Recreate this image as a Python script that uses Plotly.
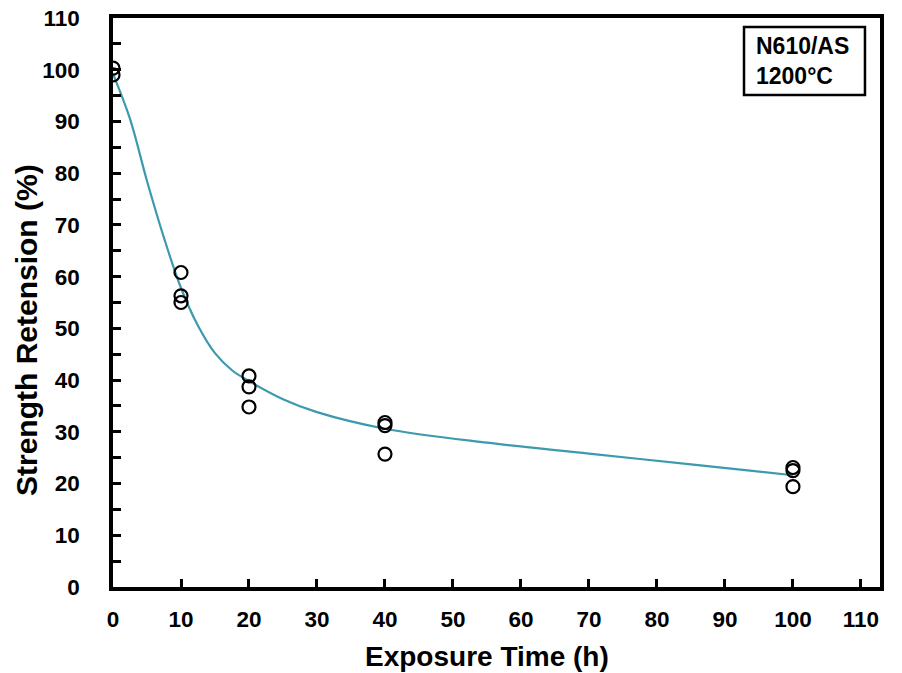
import plotly.graph_objects as go

# Measured data points (exposure time h, strength retention %)
pts_x = [0, 0, 10, 10, 10, 20, 20, 20, 40, 40, 40, 100, 100, 100]
pts_y = [100.3, 99.0, 60.8, 56.3, 55.0, 40.8, 38.7, 34.8, 31.8, 31.2, 25.7, 23.1, 22.5, 19.4]

# Fitted trend curve
fit_x = [0, 2.5, 5, 7.5, 10, 12.5, 15, 17.5, 20, 25, 30, 40, 55, 70, 85, 100]
fit_y = [99.2, 90.5, 78.5, 67.5, 57.8, 50.5, 45.2, 41.9, 39.8, 36.3, 33.8, 30.6, 27.9, 25.8, 23.7, 21.6]

x_ticks = list(range(0, 111, 10))
y_ticks = list(range(0, 111, 10))

x_title = "Exposure Time (h)"
y_title = "Strength Retension (%)"
box_text = "N610/AS<br>1200°C"

FONT = "Liberation Sans, Arial, sans-serif"

fig = go.Figure()
fig.add_trace(go.Scatter(
    x=fit_x, y=fit_y, mode="lines",
    line=dict(color="#3C9AAE", width=2.2, shape="spline", smoothing=1.0),
    showlegend=False, hoverinfo="skip"))
fig.add_trace(go.Scatter(
    x=pts_x, y=pts_y, mode="markers",
    marker=dict(symbol="circle-open", size=13, color="black", line=dict(width=2.2, color="black")),
    showlegend=False))

axis_common = dict(
    showgrid=False, zeroline=False, showline=True, linecolor="black", linewidth=3.5,
    mirror=True, ticks="inside", tickcolor="black", tickwidth=3, ticklen=8,
    tickfont=dict(family=FONT, size=22.5, color="black", weight="bold"),
    automargin=False, ticklabeloverflow="allow",
)

fig.update_xaxes(
    range=[0, 112.8], tickvals=x_ticks, ticktext=[str(v) for v in x_ticks],
    ticklabelstandoff=9,
    **axis_common)
fig.update_yaxes(
    range=[0, 110], tickvals=y_ticks, ticktext=[str(v) for v in y_ticks],
    minor=dict(dtick=5, tick0=0, ticks="inside", ticklen=8, tickwidth=3, tickcolor="black", showgrid=False),
    ticklabelstandoff=25,
    **axis_common)

# Axis titles
fig.add_annotation(
    xref="paper", yref="paper", x=0.487, y=-0.1213, xanchor="center", yanchor="middle",
    text="<b>" + x_title + "</b>", showarrow=False,
    font=dict(family=FONT, size=28, color="black"))
fig.add_annotation(
    xref="paper", yref="paper", x=-0.1121, y=0.4517, xanchor="center", yanchor="middle",
    text="<b>" + y_title + "</b>", showarrow=False, textangle=-90,
    font=dict(family=FONT, size=30, color="black"))

# Label box
fig.add_shape(type="rect", xref="paper", yref="paper",
              x0=0.8227, x1=0.9804, y0=0.8647, y1=0.9842,
              line=dict(color="black", width=2.5), fillcolor="white", layer="above")
fig.add_annotation(
    xref="paper", yref="paper", x=0.836, y=0.9244, xanchor="left", yanchor="middle",
    text="<b>" + box_text + "</b>", align="left", showarrow=False,
    font=dict(family=FONT, size=23, color="black"))

fig.update_layout(
    width=902, height=673,
    margin=dict(l=113, r=22, t=18, b=86, autoexpand=False),
    paper_bgcolor="white", plot_bgcolor="white",
)

# Remove the default page margin so the figure fills the window exactly
fig.write_html("out.html", config={"displayModeBar": False},
               post_script="document.body.style.margin='0';document.body.style.overflow='hidden';")
